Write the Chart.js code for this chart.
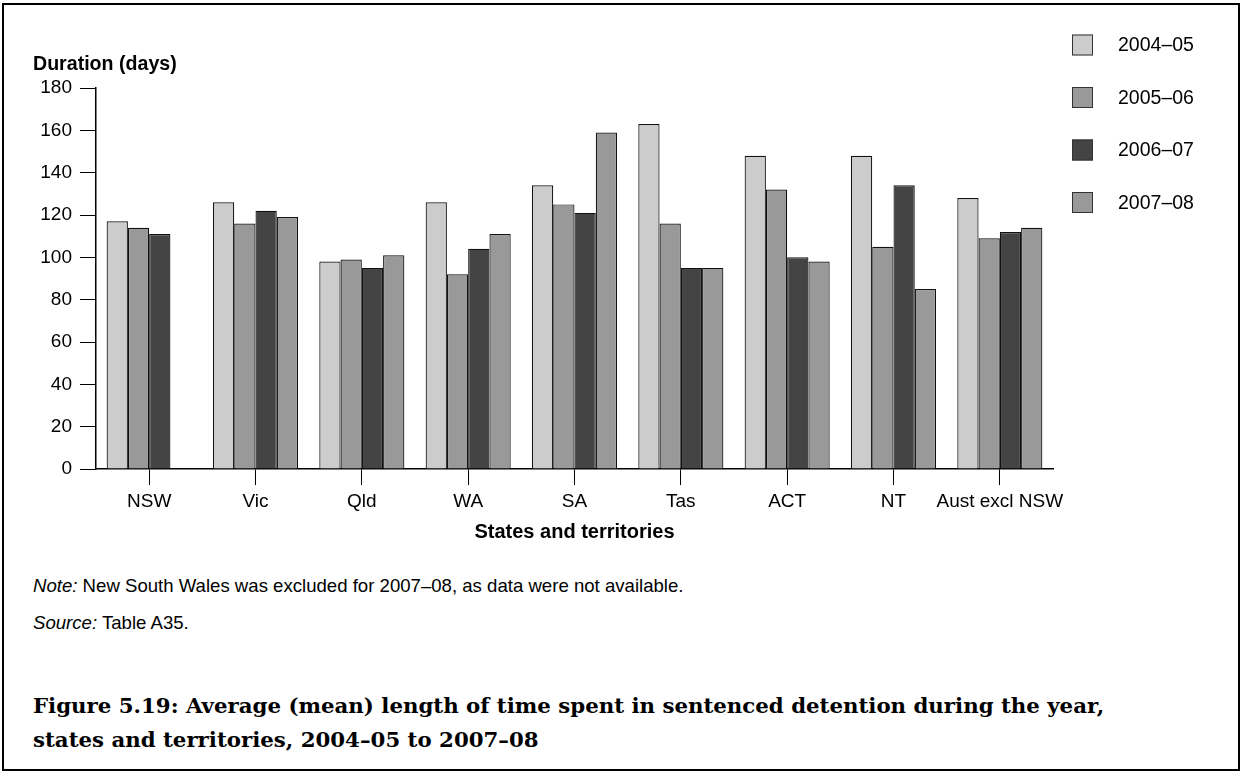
<!DOCTYPE html>
<html>
<head>
<meta charset="utf-8">
<script src="https://cdn.jsdelivr.net/npm/chart.js@4/dist/chart.umd.min.js"></script>
<style>
  body { margin: 0; background: #fff; font-family: Arial, "Liberation Sans", sans-serif; }
  #page { position: relative; width: 1242px; height: 772px; overflow: hidden; }
  #frame { position: absolute; left: 2px; top: 3px; width: 1238px; height: 768px; box-sizing: border-box; border: 2px solid #000; }
  #chart { position: absolute; left: 0; top: 0; }
  .txt { position: absolute; color: #000; white-space: nowrap; }
  #ytitle { left: 33px; top: 52px; font-weight: bold; font-size: 19.6px; }
  .note { left: 33px; font-size: 18.6px; }
  #title { left: 33px; top: 689px; font-family: "DejaVu Serif", "Liberation Serif", serif; font-weight: bold; font-size: 21.3px; line-height: 34px; }
</style>
</head>
<body>
<div id="page">
  <div id="frame"></div>
  <canvas id="chart" width="1242" height="560"></canvas>
  <div class="txt" id="ytitle">Duration (days)</div>
  <div class="txt note" style="top:575px"><i>Note:</i> New South Wales was excluded for 2007–08, as data were not available.</div>
  <div class="txt note" style="top:612px"><i>Source:</i> Table A35.</div>
  <div class="txt" id="title">Figure 5.19: Average (mean) length of time spent in sentenced detention during the year,<br>states and territories, 2004–05 to 2007–08</div>
</div>
<script>
// Categories and values (days)
const states = ['NSW', 'Vic', 'Qld', 'WA', 'SA', 'Tas', 'ACT', 'NT', 'Aust excl NSW'];
const years = ['2004–05', '2005–06', '2006–07', '2007–08'];
const y2004 = [117, 126, 98, 126, 134, 163, 148, 148, 128];
const y2005 = [114, 116, 99, 92, 125, 116, 132, 105, 109];
const y2006 = [111, 122, 95, 104, 121, 95, 100, 134, 112];
const y2007 = [null, 119, 101, 111, 159, 95, 98, 85, 114]; // NSW not available
const yTicks = [0, 20, 40, 60, 80, 100, 120, 140, 160, 180];

const fills = ['#cccccc', '#999999', '#444444', '#999999'];
const series = [y2004, y2005, y2006, y2007];

// legend drawn on the right, one square + label per year
const sideLegend = {
    id: 'sideLegend',
    afterDraw(chart) {
        const ctx = chart.ctx;
        ctx.save();
        ctx.font = '19.5px Arial, "Liberation Sans", sans-serif';
        ctx.textBaseline = 'middle';
        ctx.textAlign = 'left';
        chart.data.datasets.forEach(function (ds, i) {
            const cy = 45 + i * 52.5;
            ctx.fillStyle = ds.backgroundColor;
            ctx.fillRect(1072, cy - 10.5, 21, 21);
            ctx.strokeStyle = '#333';
            ctx.lineWidth = 1;
            ctx.strokeRect(1072.5, cy - 10, 20, 20);
            ctx.fillStyle = '#000';
            ctx.fillText(ds.label, 1118, cy + 1);
        });
        ctx.restore();
    }
};

new Chart(document.getElementById('chart'), {
    type: 'bar',
    data: {
        labels: states,
        datasets: years.map(function (y, i) {
            return {
                label: y,
                data: series[i],
                backgroundColor: fills[i],
                borderColor: '#111',
                borderWidth: 1.2,
                borderSkipped: 'start',
                categoryPercentage: 0.8,
                barPercentage: 1.0
            };
        })
    },
    options: {
        responsive: false,
        devicePixelRatio: 1,
        animation: false,
        layout: { padding: { left: 0, top: 88, right: 189, bottom: 16 } },
        plugins: {
            legend: { display: false },
            tooltip: { enabled: false }
        },
        scales: {
            x: {
                grid: { display: true, drawOnChartArea: false, drawTicks: true, tickLength: 16, offset: false, color: '#000', lineWidth: 1 },
                border: { display: true, color: '#000', width: 1.5 },
                ticks: { color: '#000', padding: 5, maxRotation: 0, autoSkip: false, font: { family: 'Arial, "Liberation Sans", sans-serif', size: 19 } },
                title: {
                    display: true,
                    text: 'States and territories',
                    color: '#000',
                    padding: { top: 4, bottom: 0 },
                    font: { family: 'Arial, "Liberation Sans", sans-serif', size: 20, weight: 'bold' }
                },
                afterFit: function (scale) { scale.height = 75; }
            },
            y: {
                min: 0,
                max: 180,
                afterBuildTicks: function (scale) { scale.ticks = yTicks.map(function (v) { return { value: v }; }); },
                grid: { display: true, drawOnChartArea: false, drawTicks: true, tickLength: 16, color: '#000', lineWidth: 1 },
                border: { display: true, color: '#000', width: 1.5 },
                ticks: { color: '#000', padding: 8, font: { family: 'Arial, "Liberation Sans", sans-serif', size: 19 } },
                afterFit: function (scale) { scale.width = 96; }
            }
        }
    },
    plugins: [sideLegend]
});
</script>
</body>
</html>
